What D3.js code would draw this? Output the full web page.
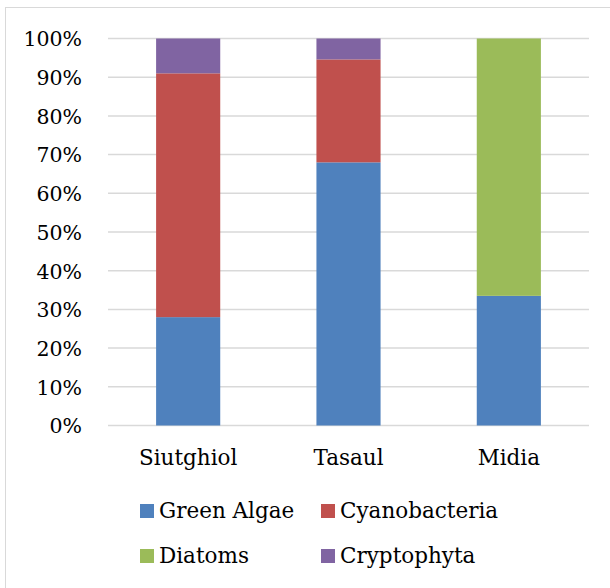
<!DOCTYPE html>
<html><head><meta charset="utf-8">
<script src="https://cdn.jsdelivr.net/npm/d3@7"></script>
<style>body{margin:0;background:#fff}svg{display:block}
svg text{font-family:'DejaVu Serif',serif;fill:#000}</style>
</head><body>
<script>
const categories = ["Siutghiol", "Tasaul", "Midia"];
const seriesNames = ["Green Algae", "Cyanobacteria", "Diatoms", "Cryptophyta"];
const greenAlgae = [28, 68, 33.5];
const cyanobacteria = [63, 26.6, 0];
const diatoms = [0, 0, 66.5];
const cryptophyta = [9, 5.4, 0];
const colors = ["#4f81bd", "#c0504d", "#9bbb59", "#8064a2"];
const tickValues = [0, 10, 20, 30, 40, 50, 60, 70, 80, 90, 100];

const W = 610, H = 588;
const svg = d3.select("body").append("svg").attr("width", W).attr("height", H);
svg.append("rect").attr("x", 5.5).attr("y", 7.5).attr("width", 640).attr("height", 620)
  .attr("fill", "#fff").attr("stroke", "#d9d9d9").attr("stroke-width", 1);

const x = d3.scaleBand().domain(categories).range([108, 589]).paddingInner(0.6).paddingOuter(0.3);
const y = d3.scaleLinear().domain([0, 100]).range([425.5, 38.5]);

const rows = categories.map((c, i) => ({cat: c, "Green Algae": greenAlgae[i], "Cyanobacteria": cyanobacteria[i], "Diatoms": diatoms[i], "Cryptophyta": cryptophyta[i]}));
const stacked = d3.stack().keys(seriesNames)(rows);

svg.append("g").selectAll("line").data(tickValues).join("line")
  .attr("x1", 108).attr("x2", 589)
  .attr("y1", d => y(d)).attr("y2", d => y(d))
  .attr("stroke", "#d9d9d9").attr("stroke-width", 1.5);

svg.append("g").selectAll("g").data(stacked).join("g")
  .attr("fill", (d, i) => colors[i])
  .selectAll("rect").data(d => d.filter(s => s[1] - s[0] > 0)).join("rect")
  .attr("x", d => x(d.data.cat)).attr("width", x.bandwidth())
  .attr("y", d => y(d[1])).attr("height", d => y(d[0]) - y(d[1]));

const yAxis = d3.axisLeft(y).tickValues(tickValues).tickFormat(d => d + "%").tickSize(0).tickPadding(0);
const ga = svg.append("g").attr("transform", "translate(82,0)").call(yAxis);
ga.attr("font-family", null);
ga.select(".domain").remove();
ga.selectAll("text").style("font-size", "20.5px").attr("dy", "0.36em");

const xAxis = d3.axisBottom(x).tickSize(0).tickPadding(0);
const gx = svg.append("g").attr("transform", "translate(0,465)").call(xAxis);
gx.attr("font-family", null);
gx.select(".domain").remove();
gx.selectAll("text").style("font-size", "21.5px").attr("dy", 0);

const legendPos = [[140, 504], [321, 504], [140, 549], [321, 549]];
const lg = svg.append("g").selectAll("g").data(seriesNames).join("g")
  .attr("transform", (d, i) => `translate(${legendPos[i][0]},${legendPos[i][1]})`);
lg.append("rect").attr("width", 14).attr("height", 14).attr("fill", (d, i) => colors[i]);
lg.append("text").attr("x", 19).attr("y", 14).text(d => d).style("font-size", "21.5px");
</script>
</body></html>
